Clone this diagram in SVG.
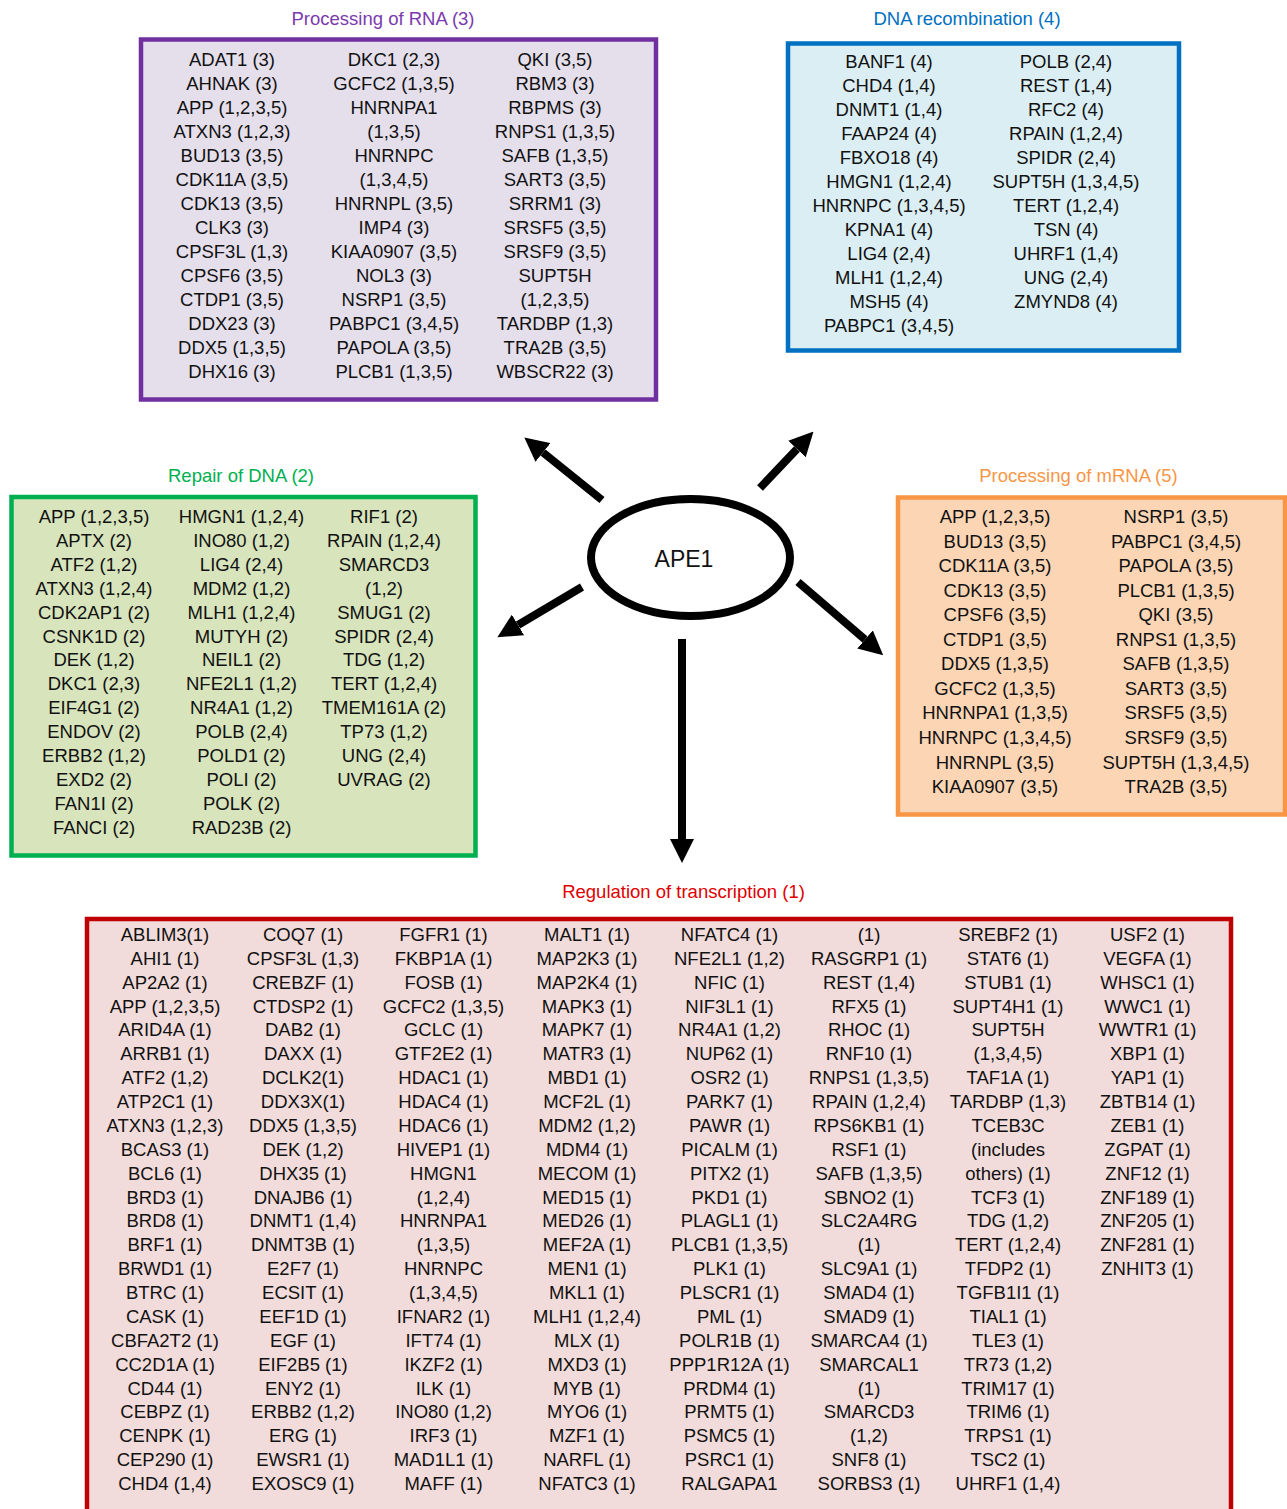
<svg xmlns="http://www.w3.org/2000/svg" width="1287" height="1509" viewBox="0 0 1287 1509">
<defs>
<style>
text{font-family:"Liberation Sans",Arial,Helvetica,sans-serif;font-size:18.5px;text-anchor:middle;fill:#111}
.t{font-size:18.5px}
.box{stroke-width:4.5}
.arrow{stroke:#000;stroke-width:8;fill:none;marker-end:url(#ah)}
</style>
<marker id="ah" viewBox="0 0 24 24" refX="0" refY="12" markerWidth="24" markerHeight="24" markerUnits="userSpaceOnUse" orient="auto">
<path d="M0,0 L24,12 L0,24 z" fill="#000"/>
</marker>
</defs>
<rect width="1287" height="1509" fill="#fff"/>

<g id="rna">
<text x="383" y="25" style="fill:#7B3AAE">Processing of RNA (3)</text>
<rect class="box" x="141" y="39.5" width="515" height="360" fill="#E5DFEC" stroke="#7030A0"/>
<text x="232" y="66"><tspan x="232" dy="0">ADAT1 (3)</tspan><tspan x="232" dy="24">AHNAK (3)</tspan><tspan x="232" dy="24">APP (1,2,3,5)</tspan><tspan x="232" dy="24">ATXN3 (1,2,3)</tspan><tspan x="232" dy="24">BUD13 (3,5)</tspan><tspan x="232" dy="24">CDK11A (3,5)</tspan><tspan x="232" dy="24">CDK13 (3,5)</tspan><tspan x="232" dy="24">CLK3 (3)</tspan><tspan x="232" dy="24">CPSF3L (1,3)</tspan><tspan x="232" dy="24">CPSF6 (3,5)</tspan><tspan x="232" dy="24">CTDP1 (3,5)</tspan><tspan x="232" dy="24">DDX23 (3)</tspan><tspan x="232" dy="24">DDX5 (1,3,5)</tspan><tspan x="232" dy="24">DHX16 (3)</tspan></text>
<text x="394" y="66"><tspan x="394" dy="0">DKC1 (2,3)</tspan><tspan x="394" dy="24">GCFC2 (1,3,5)</tspan><tspan x="394" dy="24">HNRNPA1</tspan><tspan x="394" dy="24">(1,3,5)</tspan><tspan x="394" dy="24">HNRNPC</tspan><tspan x="394" dy="24">(1,3,4,5)</tspan><tspan x="394" dy="24">HNRNPL (3,5)</tspan><tspan x="394" dy="24">IMP4 (3)</tspan><tspan x="394" dy="24">KIAA0907 (3,5)</tspan><tspan x="394" dy="24">NOL3 (3)</tspan><tspan x="394" dy="24">NSRP1 (3,5)</tspan><tspan x="394" dy="24">PABPC1 (3,4,5)</tspan><tspan x="394" dy="24">PAPOLA (3,5)</tspan><tspan x="394" dy="24">PLCB1 (1,3,5)</tspan></text>
<text x="555" y="66"><tspan x="555" dy="0">QKI (3,5)</tspan><tspan x="555" dy="24">RBM3 (3)</tspan><tspan x="555" dy="24">RBPMS (3)</tspan><tspan x="555" dy="24">RNPS1 (1,3,5)</tspan><tspan x="555" dy="24">SAFB (1,3,5)</tspan><tspan x="555" dy="24">SART3 (3,5)</tspan><tspan x="555" dy="24">SRRM1 (3)</tspan><tspan x="555" dy="24">SRSF5 (3,5)</tspan><tspan x="555" dy="24">SRSF9 (3,5)</tspan><tspan x="555" dy="24">SUPT5H</tspan><tspan x="555" dy="24">(1,2,3,5)</tspan><tspan x="555" dy="24">TARDBP (1,3)</tspan><tspan x="555" dy="24">TRA2B (3,5)</tspan><tspan x="555" dy="24">WBSCR22 (3)</tspan></text>
</g>

<g id="dnarec">
<text x="967" y="25" style="fill:#0070C0">DNA recombination (4)</text>
<rect class="box" x="788" y="43.5" width="391" height="307" fill="#DBEEF4" stroke="#0070C0"/>
<text x="889" y="68"><tspan x="889" dy="0">BANF1 (4)</tspan><tspan x="889" dy="24">CHD4 (1,4)</tspan><tspan x="889" dy="24">DNMT1 (1,4)</tspan><tspan x="889" dy="24">FAAP24 (4)</tspan><tspan x="889" dy="24">FBXO18 (4)</tspan><tspan x="889" dy="24">HMGN1 (1,2,4)</tspan><tspan x="889" dy="24">HNRNPC (1,3,4,5)</tspan><tspan x="889" dy="24">KPNA1 (4)</tspan><tspan x="889" dy="24">LIG4 (2,4)</tspan><tspan x="889" dy="24">MLH1 (1,2,4)</tspan><tspan x="889" dy="24">MSH5 (4)</tspan><tspan x="889" dy="24">PABPC1 (3,4,5)</tspan></text>
<text x="1066" y="68"><tspan x="1066" dy="0">POLB (2,4)</tspan><tspan x="1066" dy="24">REST (1,4)</tspan><tspan x="1066" dy="24">RFC2 (4)</tspan><tspan x="1066" dy="24">RPAIN (1,2,4)</tspan><tspan x="1066" dy="24">SPIDR (2,4)</tspan><tspan x="1066" dy="24">SUPT5H (1,3,4,5)</tspan><tspan x="1066" dy="24">TERT (1,2,4)</tspan><tspan x="1066" dy="24">TSN (4)</tspan><tspan x="1066" dy="24">UHRF1 (1,4)</tspan><tspan x="1066" dy="24">UNG (2,4)</tspan><tspan x="1066" dy="24">ZMYND8 (4)</tspan></text>
</g>

<g id="repair">
<text x="241" y="482" style="fill:#00B050">Repair of DNA (2)</text>
<rect class="box" x="11.5" y="497" width="464" height="358.5" fill="#D7E4BC" stroke="#00B050"/>
<text x="94" y="523"><tspan x="94" dy="0">APP (1,2,3,5)</tspan><tspan x="94" dy="23.9">APTX (2)</tspan><tspan x="94" dy="23.9">ATF2 (1,2)</tspan><tspan x="94" dy="23.9">ATXN3 (1,2,4)</tspan><tspan x="94" dy="23.9">CDK2AP1 (2)</tspan><tspan x="94" dy="23.9">CSNK1D (2)</tspan><tspan x="94" dy="23.9">DEK (1,2)</tspan><tspan x="94" dy="23.9">DKC1 (2,3)</tspan><tspan x="94" dy="23.9">EIF4G1 (2)</tspan><tspan x="94" dy="23.9">ENDOV (2)</tspan><tspan x="94" dy="23.9">ERBB2 (1,2)</tspan><tspan x="94" dy="23.9">EXD2 (2)</tspan><tspan x="94" dy="23.9">FAN1I (2)</tspan><tspan x="94" dy="23.9">FANCI (2)</tspan></text>
<text x="241.5" y="523"><tspan x="241.5" dy="0">HMGN1 (1,2,4)</tspan><tspan x="241.5" dy="23.9">INO80 (1,2)</tspan><tspan x="241.5" dy="23.9">LIG4 (2,4)</tspan><tspan x="241.5" dy="23.9">MDM2 (1,2)</tspan><tspan x="241.5" dy="23.9">MLH1 (1,2,4)</tspan><tspan x="241.5" dy="23.9">MUTYH (2)</tspan><tspan x="241.5" dy="23.9">NEIL1 (2)</tspan><tspan x="241.5" dy="23.9">NFE2L1 (1,2)</tspan><tspan x="241.5" dy="23.9">NR4A1 (1,2)</tspan><tspan x="241.5" dy="23.9">POLB (2,4)</tspan><tspan x="241.5" dy="23.9">POLD1 (2)</tspan><tspan x="241.5" dy="23.9">POLI (2)</tspan><tspan x="241.5" dy="23.9">POLK (2)</tspan><tspan x="241.5" dy="23.9">RAD23B (2)</tspan></text>
<text x="384" y="523"><tspan x="384" dy="0">RIF1 (2)</tspan><tspan x="384" dy="23.9">RPAIN (1,2,4)</tspan><tspan x="384" dy="23.9">SMARCD3</tspan><tspan x="384" dy="23.9">(1,2)</tspan><tspan x="384" dy="23.9">SMUG1 (2)</tspan><tspan x="384" dy="23.9">SPIDR (2,4)</tspan><tspan x="384" dy="23.9">TDG (1,2)</tspan><tspan x="384" dy="23.9">TERT (1,2,4)</tspan><tspan x="384" dy="23.9">TMEM161A (2)</tspan><tspan x="384" dy="23.9">TP73 (1,2)</tspan><tspan x="384" dy="23.9">UNG (2,4)</tspan><tspan x="384" dy="23.9">UVRAG (2)</tspan></text>
</g>

<g id="mrna">
<text x="1078.5" y="482" style="fill:#F79646">Processing of mRNA (5)</text>
<rect class="box" x="898" y="497.5" width="387" height="317" fill="#FCD5B5" stroke="#F79646"/>
<text x="995" y="523"><tspan x="995" dy="0">APP (1,2,3,5)</tspan><tspan x="995" dy="24.55">BUD13 (3,5)</tspan><tspan x="995" dy="24.55">CDK11A (3,5)</tspan><tspan x="995" dy="24.55">CDK13 (3,5)</tspan><tspan x="995" dy="24.55">CPSF6 (3,5)</tspan><tspan x="995" dy="24.55">CTDP1 (3,5)</tspan><tspan x="995" dy="24.55">DDX5 (1,3,5)</tspan><tspan x="995" dy="24.55">GCFC2 (1,3,5)</tspan><tspan x="995" dy="24.55">HNRNPA1 (1,3,5)</tspan><tspan x="995" dy="24.55">HNRNPC (1,3,4,5)</tspan><tspan x="995" dy="24.55">HNRNPL (3,5)</tspan><tspan x="995" dy="24.55">KIAA0907 (3,5)</tspan></text>
<text x="1176" y="523"><tspan x="1176" dy="0">NSRP1 (3,5)</tspan><tspan x="1176" dy="24.55">PABPC1 (3,4,5)</tspan><tspan x="1176" dy="24.55">PAPOLA (3,5)</tspan><tspan x="1176" dy="24.55">PLCB1 (1,3,5)</tspan><tspan x="1176" dy="24.55">QKI (3,5)</tspan><tspan x="1176" dy="24.55">RNPS1 (1,3,5)</tspan><tspan x="1176" dy="24.55">SAFB (1,3,5)</tspan><tspan x="1176" dy="24.55">SART3 (3,5)</tspan><tspan x="1176" dy="24.55">SRSF5 (3,5)</tspan><tspan x="1176" dy="24.55">SRSF9 (3,5)</tspan><tspan x="1176" dy="24.55">SUPT5H (1,3,4,5)</tspan><tspan x="1176" dy="24.55">TRA2B (3,5)</tspan></text>
</g>

<g id="ape1">
<ellipse cx="690.5" cy="557.5" rx="99.5" ry="58.5" fill="#fff" stroke="#000" stroke-width="8"/>
<text x="684" y="567" style="font-size:23px">APE1</text>
</g>

<g id="connectors">
<line class="arrow" x1="602" y1="500" x2="543" y2="452.5"/>
<line class="arrow" x1="760" y1="488" x2="797" y2="449"/>
<line class="arrow" x1="582" y1="587" x2="518" y2="625"/>
<line class="arrow" x1="798" y1="582" x2="865" y2="639.5"/>
<line class="arrow" x1="682" y1="639" x2="682" y2="839"/>
</g>

<g id="transcription">
<text x="683.5" y="898" style="fill:#E00000">Regulation of transcription (1)</text>
<rect class="box" x="87" y="919" width="1144" height="640" fill="#F2DCDB" stroke="#C00000"/>
<text x="165" y="941"><tspan x="165" dy="0">ABLIM3(1)</tspan><tspan x="165" dy="23.87">AHI1 (1)</tspan><tspan x="165" dy="23.87">AP2A2 (1)</tspan><tspan x="165" dy="23.87">APP (1,2,3,5)</tspan><tspan x="165" dy="23.87">ARID4A (1)</tspan><tspan x="165" dy="23.87">ARRB1 (1)</tspan><tspan x="165" dy="23.87">ATF2 (1,2)</tspan><tspan x="165" dy="23.87">ATP2C1 (1)</tspan><tspan x="165" dy="23.87">ATXN3 (1,2,3)</tspan><tspan x="165" dy="23.87">BCAS3 (1)</tspan><tspan x="165" dy="23.87">BCL6 (1)</tspan><tspan x="165" dy="23.87">BRD3 (1)</tspan><tspan x="165" dy="23.87">BRD8 (1)</tspan><tspan x="165" dy="23.87">BRF1 (1)</tspan><tspan x="165" dy="23.87">BRWD1 (1)</tspan><tspan x="165" dy="23.87">BTRC (1)</tspan><tspan x="165" dy="23.87">CASK (1)</tspan><tspan x="165" dy="23.87">CBFA2T2 (1)</tspan><tspan x="165" dy="23.87">CC2D1A (1)</tspan><tspan x="165" dy="23.87">CD44 (1)</tspan><tspan x="165" dy="23.87">CEBPZ (1)</tspan><tspan x="165" dy="23.87">CENPK (1)</tspan><tspan x="165" dy="23.87">CEP290 (1)</tspan><tspan x="165" dy="23.87">CHD4 (1,4)</tspan></text>
<text x="303" y="941"><tspan x="303" dy="0">COQ7 (1)</tspan><tspan x="303" dy="23.87">CPSF3L (1,3)</tspan><tspan x="303" dy="23.87">CREBZF (1)</tspan><tspan x="303" dy="23.87">CTDSP2 (1)</tspan><tspan x="303" dy="23.87">DAB2 (1)</tspan><tspan x="303" dy="23.87">DAXX (1)</tspan><tspan x="303" dy="23.87">DCLK2(1)</tspan><tspan x="303" dy="23.87">DDX3X(1)</tspan><tspan x="303" dy="23.87">DDX5 (1,3,5)</tspan><tspan x="303" dy="23.87">DEK (1,2)</tspan><tspan x="303" dy="23.87">DHX35 (1)</tspan><tspan x="303" dy="23.87">DNAJB6 (1)</tspan><tspan x="303" dy="23.87">DNMT1 (1,4)</tspan><tspan x="303" dy="23.87">DNMT3B (1)</tspan><tspan x="303" dy="23.87">E2F7 (1)</tspan><tspan x="303" dy="23.87">ECSIT (1)</tspan><tspan x="303" dy="23.87">EEF1D (1)</tspan><tspan x="303" dy="23.87">EGF (1)</tspan><tspan x="303" dy="23.87">EIF2B5 (1)</tspan><tspan x="303" dy="23.87">ENY2 (1)</tspan><tspan x="303" dy="23.87">ERBB2 (1,2)</tspan><tspan x="303" dy="23.87">ERG (1)</tspan><tspan x="303" dy="23.87">EWSR1 (1)</tspan><tspan x="303" dy="23.87">EXOSC9 (1)</tspan></text>
<text x="443.5" y="941"><tspan x="443.5" dy="0">FGFR1 (1)</tspan><tspan x="443.5" dy="23.87">FKBP1A (1)</tspan><tspan x="443.5" dy="23.87">FOSB (1)</tspan><tspan x="443.5" dy="23.87">GCFC2 (1,3,5)</tspan><tspan x="443.5" dy="23.87">GCLC (1)</tspan><tspan x="443.5" dy="23.87">GTF2E2 (1)</tspan><tspan x="443.5" dy="23.87">HDAC1 (1)</tspan><tspan x="443.5" dy="23.87">HDAC4 (1)</tspan><tspan x="443.5" dy="23.87">HDAC6 (1)</tspan><tspan x="443.5" dy="23.87">HIVEP1 (1)</tspan><tspan x="443.5" dy="23.87">HMGN1</tspan><tspan x="443.5" dy="23.87">(1,2,4)</tspan><tspan x="443.5" dy="23.87">HNRNPA1</tspan><tspan x="443.5" dy="23.87">(1,3,5)</tspan><tspan x="443.5" dy="23.87">HNRNPC</tspan><tspan x="443.5" dy="23.87">(1,3,4,5)</tspan><tspan x="443.5" dy="23.87">IFNAR2 (1)</tspan><tspan x="443.5" dy="23.87">IFT74 (1)</tspan><tspan x="443.5" dy="23.87">IKZF2 (1)</tspan><tspan x="443.5" dy="23.87">ILK (1)</tspan><tspan x="443.5" dy="23.87">INO80 (1,2)</tspan><tspan x="443.5" dy="23.87">IRF3 (1)</tspan><tspan x="443.5" dy="23.87">MAD1L1 (1)</tspan><tspan x="443.5" dy="23.87">MAFF (1)</tspan></text>
<text x="587" y="941"><tspan x="587" dy="0">MALT1 (1)</tspan><tspan x="587" dy="23.87">MAP2K3 (1)</tspan><tspan x="587" dy="23.87">MAP2K4 (1)</tspan><tspan x="587" dy="23.87">MAPK3 (1)</tspan><tspan x="587" dy="23.87">MAPK7 (1)</tspan><tspan x="587" dy="23.87">MATR3 (1)</tspan><tspan x="587" dy="23.87">MBD1 (1)</tspan><tspan x="587" dy="23.87">MCF2L (1)</tspan><tspan x="587" dy="23.87">MDM2 (1,2)</tspan><tspan x="587" dy="23.87">MDM4 (1)</tspan><tspan x="587" dy="23.87">MECOM (1)</tspan><tspan x="587" dy="23.87">MED15 (1)</tspan><tspan x="587" dy="23.87">MED26 (1)</tspan><tspan x="587" dy="23.87">MEF2A (1)</tspan><tspan x="587" dy="23.87">MEN1 (1)</tspan><tspan x="587" dy="23.87">MKL1 (1)</tspan><tspan x="587" dy="23.87">MLH1 (1,2,4)</tspan><tspan x="587" dy="23.87">MLX (1)</tspan><tspan x="587" dy="23.87">MXD3 (1)</tspan><tspan x="587" dy="23.87">MYB (1)</tspan><tspan x="587" dy="23.87">MYO6 (1)</tspan><tspan x="587" dy="23.87">MZF1 (1)</tspan><tspan x="587" dy="23.87">NARFL (1)</tspan><tspan x="587" dy="23.87">NFATC3 (1)</tspan></text>
<text x="729.5" y="941"><tspan x="729.5" dy="0">NFATC4 (1)</tspan><tspan x="729.5" dy="23.87">NFE2L1 (1,2)</tspan><tspan x="729.5" dy="23.87">NFIC (1)</tspan><tspan x="729.5" dy="23.87">NIF3L1 (1)</tspan><tspan x="729.5" dy="23.87">NR4A1 (1,2)</tspan><tspan x="729.5" dy="23.87">NUP62 (1)</tspan><tspan x="729.5" dy="23.87">OSR2 (1)</tspan><tspan x="729.5" dy="23.87">PARK7 (1)</tspan><tspan x="729.5" dy="23.87">PAWR (1)</tspan><tspan x="729.5" dy="23.87">PICALM (1)</tspan><tspan x="729.5" dy="23.87">PITX2 (1)</tspan><tspan x="729.5" dy="23.87">PKD1 (1)</tspan><tspan x="729.5" dy="23.87">PLAGL1 (1)</tspan><tspan x="729.5" dy="23.87">PLCB1 (1,3,5)</tspan><tspan x="729.5" dy="23.87">PLK1 (1)</tspan><tspan x="729.5" dy="23.87">PLSCR1 (1)</tspan><tspan x="729.5" dy="23.87">PML (1)</tspan><tspan x="729.5" dy="23.87">POLR1B (1)</tspan><tspan x="729.5" dy="23.87">PPP1R12A (1)</tspan><tspan x="729.5" dy="23.87">PRDM4 (1)</tspan><tspan x="729.5" dy="23.87">PRMT5 (1)</tspan><tspan x="729.5" dy="23.87">PSMC5 (1)</tspan><tspan x="729.5" dy="23.87">PSRC1 (1)</tspan><tspan x="729.5" dy="23.87">RALGAPA1</tspan></text>
<text x="869" y="941"><tspan x="869" dy="0">(1)</tspan><tspan x="869" dy="23.87">RASGRP1 (1)</tspan><tspan x="869" dy="23.87">REST (1,4)</tspan><tspan x="869" dy="23.87">RFX5 (1)</tspan><tspan x="869" dy="23.87">RHOC (1)</tspan><tspan x="869" dy="23.87">RNF10 (1)</tspan><tspan x="869" dy="23.87">RNPS1 (1,3,5)</tspan><tspan x="869" dy="23.87">RPAIN (1,2,4)</tspan><tspan x="869" dy="23.87">RPS6KB1 (1)</tspan><tspan x="869" dy="23.87">RSF1 (1)</tspan><tspan x="869" dy="23.87">SAFB (1,3,5)</tspan><tspan x="869" dy="23.87">SBNO2 (1)</tspan><tspan x="869" dy="23.87">SLC2A4RG</tspan><tspan x="869" dy="23.87">(1)</tspan><tspan x="869" dy="23.87">SLC9A1 (1)</tspan><tspan x="869" dy="23.87">SMAD4 (1)</tspan><tspan x="869" dy="23.87">SMAD9 (1)</tspan><tspan x="869" dy="23.87">SMARCA4 (1)</tspan><tspan x="869" dy="23.87">SMARCAL1</tspan><tspan x="869" dy="23.87">(1)</tspan><tspan x="869" dy="23.87">SMARCD3</tspan><tspan x="869" dy="23.87">(1,2)</tspan><tspan x="869" dy="23.87">SNF8 (1)</tspan><tspan x="869" dy="23.87">SORBS3 (1)</tspan></text>
<text x="1008" y="941"><tspan x="1008" dy="0">SREBF2 (1)</tspan><tspan x="1008" dy="23.87">STAT6 (1)</tspan><tspan x="1008" dy="23.87">STUB1 (1)</tspan><tspan x="1008" dy="23.87">SUPT4H1 (1)</tspan><tspan x="1008" dy="23.87">SUPT5H</tspan><tspan x="1008" dy="23.87">(1,3,4,5)</tspan><tspan x="1008" dy="23.87">TAF1A (1)</tspan><tspan x="1008" dy="23.87">TARDBP (1,3)</tspan><tspan x="1008" dy="23.87">TCEB3C</tspan><tspan x="1008" dy="23.87">(includes</tspan><tspan x="1008" dy="23.87">others) (1)</tspan><tspan x="1008" dy="23.87">TCF3 (1)</tspan><tspan x="1008" dy="23.87">TDG (1,2)</tspan><tspan x="1008" dy="23.87">TERT (1,2,4)</tspan><tspan x="1008" dy="23.87">TFDP2 (1)</tspan><tspan x="1008" dy="23.87">TGFB1I1 (1)</tspan><tspan x="1008" dy="23.87">TIAL1 (1)</tspan><tspan x="1008" dy="23.87">TLE3 (1)</tspan><tspan x="1008" dy="23.87">TR73 (1,2)</tspan><tspan x="1008" dy="23.87">TRIM17 (1)</tspan><tspan x="1008" dy="23.87">TRIM6 (1)</tspan><tspan x="1008" dy="23.87">TRPS1 (1)</tspan><tspan x="1008" dy="23.87">TSC2 (1)</tspan><tspan x="1008" dy="23.87">UHRF1 (1,4)</tspan></text>
<text x="1147.5" y="941"><tspan x="1147.5" dy="0">USF2 (1)</tspan><tspan x="1147.5" dy="23.87">VEGFA (1)</tspan><tspan x="1147.5" dy="23.87">WHSC1 (1)</tspan><tspan x="1147.5" dy="23.87">WWC1 (1)</tspan><tspan x="1147.5" dy="23.87">WWTR1 (1)</tspan><tspan x="1147.5" dy="23.87">XBP1 (1)</tspan><tspan x="1147.5" dy="23.87">YAP1 (1)</tspan><tspan x="1147.5" dy="23.87">ZBTB14 (1)</tspan><tspan x="1147.5" dy="23.87">ZEB1 (1)</tspan><tspan x="1147.5" dy="23.87">ZGPAT (1)</tspan><tspan x="1147.5" dy="23.87">ZNF12 (1)</tspan><tspan x="1147.5" dy="23.87">ZNF189 (1)</tspan><tspan x="1147.5" dy="23.87">ZNF205 (1)</tspan><tspan x="1147.5" dy="23.87">ZNF281 (1)</tspan><tspan x="1147.5" dy="23.87">ZNHIT3 (1)</tspan></text>
</g>
</svg>
